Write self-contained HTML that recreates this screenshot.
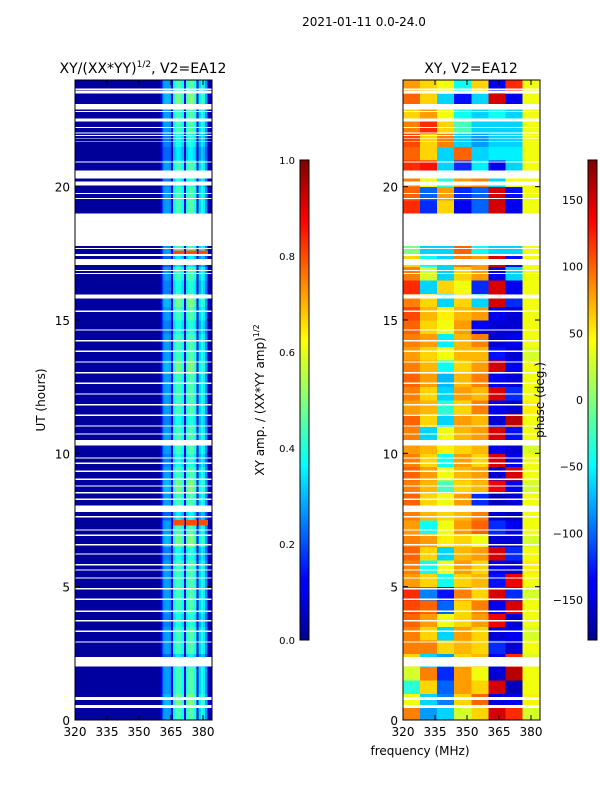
<!DOCTYPE html>
<html><head><meta charset="utf-8">
<style>
html,body{margin:0;padding:0;background:#fff;}
body{width:600px;height:800px;overflow:hidden;font-family:"DejaVu Sans","Liberation Sans",sans-serif;}
svg text{font-family:"DejaVu Sans","Liberation Sans",sans-serif;fill:#000;}
</style></head>
<body>
<svg id="chart" width="600" height="800" viewBox="0 0 600 800" xmlns="http://www.w3.org/2000/svg">
<defs>
<linearGradient id="jet" x1="0" y1="1" x2="0" y2="0">
<stop offset="0" stop-color="#00008f"/><stop offset="0.11" stop-color="#0000ff"/>
<stop offset="0.125" stop-color="#0000ff"/><stop offset="0.365" stop-color="#00ffff"/>
<stop offset="0.625" stop-color="#ffff00"/><stop offset="0.875" stop-color="#ff0000"/>
<stop offset="1" stop-color="#800000"/>
</linearGradient>
<clipPath id="clipL"><rect x="75" y="80" width="137" height="640"/></clipPath>
<clipPath id="clipR"><rect x="403" y="80" width="137" height="640"/></clipPath>
</defs>
<text x="364" y="26" font-size="12" text-anchor="middle">2021-01-11 0.0-24.0</text>
<text x="143" y="73" font-size="14" text-anchor="middle">XY/(XX*YY)<tspan font-size="9" dy="-6">1/2</tspan><tspan dy="6">, V2=EA12</tspan></text>
<text x="471" y="73" font-size="14" text-anchor="middle">XY, V2=EA12</text>
<g id="heatL" clip-path="url(#clipL)" shape-rendering="crispEdges"></g>
<g id="heatR" clip-path="url(#clipR)" shape-rendering="crispEdges"></g>
<g id="axes"></g>
<rect x="300" y="160" width="9" height="480" fill="url(#jet)" stroke="#000" stroke-width="1"/>
<rect x="588" y="160" width="9" height="480" fill="url(#jet)" stroke="#000" stroke-width="1"/>
<text transform="translate(45,400) rotate(-90)" font-size="12" text-anchor="middle">UT (hours)</text>
<text x="420" y="755" font-size="12" text-anchor="middle">frequency (MHz)</text>
<text transform="translate(264,400) rotate(-90)" font-size="12" text-anchor="middle">XY amp. / (XX*YY amp)<tspan font-size="8" dy="-5">1/2</tspan></text>
<text transform="translate(544,400) rotate(-90)" font-size="12" text-anchor="middle">phase (deg.)</text>
</svg>
<script>
// ---- data ----
const timeBands = [];
for (let i = 0; i < 48; i++) timeBands.push(i * 0.5);
const freqGroupsR = [320,328,336,344,352,360,368,376];
const ampFreqs = [];
for (let f = 320; f < 384; f++) ampFreqs.push(f);
const ampCol = [0.03,0.03,0.03,0.03,0.03,0.03,0.03,0.03,0.03,0.03,0.03,0.03,0.03,0.03,0.03,0.03,0.03,0.03,0.03,0.03,
0.03,0.03,0.03,0.03,0.03,0.03,0.03,0.03,0.03,0.03,0.03,0.03,0.03,0.03,0.03,0.03,0.03,0.03,0.03,0.03,
0.12,0.26,0.28,0.28,0.26,0.1,0.38,0.44,0.45,0.43,0.38,0.1,0.4,0.45,0.46,0.44,0.38,0.1,0.34,0.4,0.36,0.26,0.05,0.05];
const ampRowScale = [1,1.1,1,1,0.8,1,1,0.9,1,1,1,1,0.9,1.1,1,0.8,1,1.1,1,0.9,1,1,0.9,1,1,1,1.1,1,1,0.9,1,1.1,0.9,1,0.8,1,1,1,1,1,0.9,1,0.8,0.9,1,1,1.1,1];
const hotStarts = [7.3, 17.45];
const hotEnds = [7.5, 17.6];
const hotValues = [0.8, 0.8];
const phaseRows = [
[90,-80,-60,30,60,150,120,30],[40,-60,-90,60,100,-150,-140,50],[-30,60,-100,80,60,150,-160,40],[30,90,-120,80,40,-150,160,40],
[60,-60,-80,60,70,-140,120,30],[90,90,60,70,60,-120,-150,40],[90,60,-60,80,60,-150,-140,30],[100,80,40,60,80,140,-150,40],
[110,100,-100,60,90,-140,150,40],[120,-90,-130,90,60,150,-120,30],[80,60,-40,60,70,-130,140,40],[90,-40,40,80,60,-140,-150,50],
[100,60,-60,70,80,150,-120,40],[90,80,50,60,40,-150,-150,30],[80,-40,40,80,100,-120,-140,40],[90,70,60,70,90,-150,-160,40],
[100,60,40,80,-120,-160,-150,40],[90,70,-20,60,70,140,-140,30],[100,80,40,70,80,-150,150,40],[90,60,-40,80,60,150,-140,40],
[80,70,50,60,70,-140,-150,30],[90,-60,40,70,80,150,-130,40],[100,60,-60,80,70,-150,160,40],[80,70,-30,60,90,-140,-150,50],
[90,60,-60,80,70,150,-120,40],[100,80,-70,70,90,-140,-150,40],[90,70,-40,60,80,150,-140,40],[80,60,40,70,70,-130,-150,30],
[90,80,-50,70,90,-150,-140,40],[100,60,40,80,-140,-150,-150,40],[110,70,50,70,80,-140,-150,40],[90,60,-60,60,-60,150,-120,40],
[120,-60,60,40,-120,150,-140,40],[90,30,-60,60,80,-140,-60,40],[60,-40,-60,90,80,150,-130,40],[0,-60,-60,100,-40,-60,-60,40],
[0,0,0,0,0,0,0,0],[0,0,0,0,0,0,0,0],[120,-120,60,-140,-100,150,-140,40],[100,-100,80,-120,-100,150,-130,40],
[90,40,-30,80,90,-60,40,40],[120,130,-60,-120,-50,-140,-60,40],[100,60,-60,100,-60,-50,-50,40],[110,60,90,-60,-80,-60,-60,40],
[90,120,60,-20,-60,-60,-60,40],[60,80,40,-40,-60,-40,-60,40],[100,60,-60,-130,-60,150,-140,40],[80,60,40,-40,60,-140,120,40]];
const gapStart = [0.45,0.75,2.0,2.9,3.3,3.7,4.05,4.5,4.9,5.3,5.6,5.8,6.2,6.55,6.9,7.1,7.6,7.8,8.25,8.5,8.75,9.0,9.3,9.6,9.8,10.3,10.7,11.0,11.4,11.8,12.2,12.6,13.0,13.4,13.8,14.2,14.6,15.3,15.8,16.72,16.84,17.06,17.4,17.66,17.78,19.54,19.72,20.05,20.3,20.9,21.67,21.8,21.9,22.0,22.2,22.45,22.8,22.9,23.5,23.6];
const gapEnd   = [0.56,0.86,2.36,2.95,3.35,3.75,4.1,4.55,4.95,5.35,5.65,5.85,6.25,6.6,6.95,7.15,7.65,8.05,8.3,8.55,8.8,9.05,9.35,9.65,9.85,10.5,10.75,11.05,11.45,11.85,12.25,12.65,13.05,13.45,13.85,14.25,14.65,15.35,15.95,16.76,16.88,17.29,17.47,17.7,19.0,19.58,19.76,20.2,20.6,20.95,21.7,21.83,21.93,22.03,22.23,22.55,22.84,23.1,23.58,23.68];
const yTicks = [0,5,10,15,20];
const xTicks = [320,335,350,365,380];
const ampTicks = [0.0,0.2,0.4,0.6,0.8,1.0];
const phaseTicks = [-150,-100,-50,0,50,100,150];

// ---- scales ----
const NS = 'http://www.w3.org/2000/svg';
const yS = h => 720 - h * (640 / 24);
const xL = f => 75 + (f - 320) * (32 / 15);
const xR = f => 403 + (f - 320) * (32 / 15);
const yAmp = v => 640 - v * 480;
const yPh = v => 640 - (v + 180) / 360 * 480;
function jet(t) {
  t = Math.max(0, Math.min(1, t));
  const r = Math.max(0, Math.min(1, 1.5 - Math.abs(4 * t - 3)));
  const g = Math.max(0, Math.min(1, 1.5 - Math.abs(4 * t - 2)));
  const b = Math.max(0, Math.min(1, 1.5 - Math.abs(4 * t - 1)));
  return 'rgb(' + Math.round(r * 255) + ',' + Math.round(g * 255) + ',' + Math.round(b * 255) + ')';
}
function mk(tag, attrs, parent) {
  const e = document.createElementNS(NS, tag);
  for (const k in attrs) e.setAttribute(k, attrs[k]);
  parent.appendChild(e);
  return e;
}
const heatL = document.getElementById('heatL');
const heatR = document.getElementById('heatR');
const axes = document.getElementById('axes');

timeBands.forEach((t, i) => {
  ampFreqs.forEach((f, j) => {
    const v = Math.min(1, ampCol[j] * ampRowScale[i]);
    const r = mk('rect', {x: xL(f), y: yS(t + 0.5), width: xL(f + 1) - xL(f) + 0.5, height: yS(t) - yS(t + 0.5) + 0.5, fill: jet(v)}, heatL);
    
    
  });
});
hotStarts.forEach((s, k) => {
  for (let j = 46; j < 62; j++) {
    if (ampCol[j] < 0.2) continue;
    const r = mk('rect', {x: xL(ampFreqs[j]), y: yS(hotEnds[k]), width: xL(ampFreqs[j] + 1) - xL(ampFreqs[j]) + 0.5, height: yS(s) - yS(hotEnds[k]), fill: jet(hotValues[k])}, heatL);
    
    
  }
});
timeBands.forEach((t, i) => {
  freqGroupsR.forEach((f, j) => {
    const r = mk('rect', {x: xR(f), y: yS(t + 0.5), width: xR(f + 8) - xR(f) + 0.5, height: yS(t) - yS(t + 0.5) + 0.5, fill: jet((phaseRows[i][j] + 180) / 360)}, heatR);
    
    
  });
});
gapStart.forEach((s, k) => {
  [heatL, heatR].forEach((g, gi) => {
    const r = mk('rect', {x: gi ? 403 : 75, y: yS(gapEnd[k]), width: 137, height: yS(s) - yS(gapEnd[k]), fill: '#fff'}, g);
    
    
  });
});
[75, 403].forEach((x0, p) => {
  const fr = mk('rect', {x: x0, y: 80, width: 137, height: 640, fill: 'none', stroke: '#000', 'stroke-width': 1}, axes);
  
  
  yTicks.forEach(v => {
    const y = yS(v);
    mk('line', {x1: x0, x2: x0 + 5, y1: y, y2: y, stroke: '#000'}, axes);
    mk('line', {x1: x0 + 137, x2: x0 + 132, y1: y, y2: y, stroke: '#000'}, axes);
    const tx = mk('text', {x: x0 - 5, y: y + 5, 'font-size': 12, 'text-anchor': 'end'}, axes);
    tx.textContent = v;
    
    
  });
  xTicks.forEach(v => {
    const x = p ? xR(v) : xL(v);
    mk('line', {x1: x, x2: x, y1: 720, y2: 715, stroke: '#000'}, axes);
    mk('line', {x1: x, x2: x, y1: 80, y2: 85, stroke: '#000'}, axes);
    const tx = mk('text', {x: x, y: 736, 'font-size': 12, 'text-anchor': 'middle'}, axes);
    tx.textContent = v;
    
    
  });
});
ampTicks.forEach(v => {
  const y = yAmp(v);
  mk('line', {x1: 300, x2: 309, y1: y, y2: y, stroke: '#000'}, axes);
  const tx = mk('text', {x: 295, y: y + 4, 'font-size': 10, 'text-anchor': 'end'}, axes);
  tx.textContent = v.toFixed(1);
  
  
});
phaseTicks.forEach(v => {
  const y = yPh(v);
  mk('line', {x1: 588, x2: 597, y1: y, y2: y, stroke: '#000'}, axes);
  const tx = mk('text', {x: 583, y: y + 4, 'font-size': 11, 'text-anchor': 'end'}, axes);
  tx.textContent = v < 0 ? '\u2212' + Math.abs(v) : v;
  
  
});
</script>
</body></html>
